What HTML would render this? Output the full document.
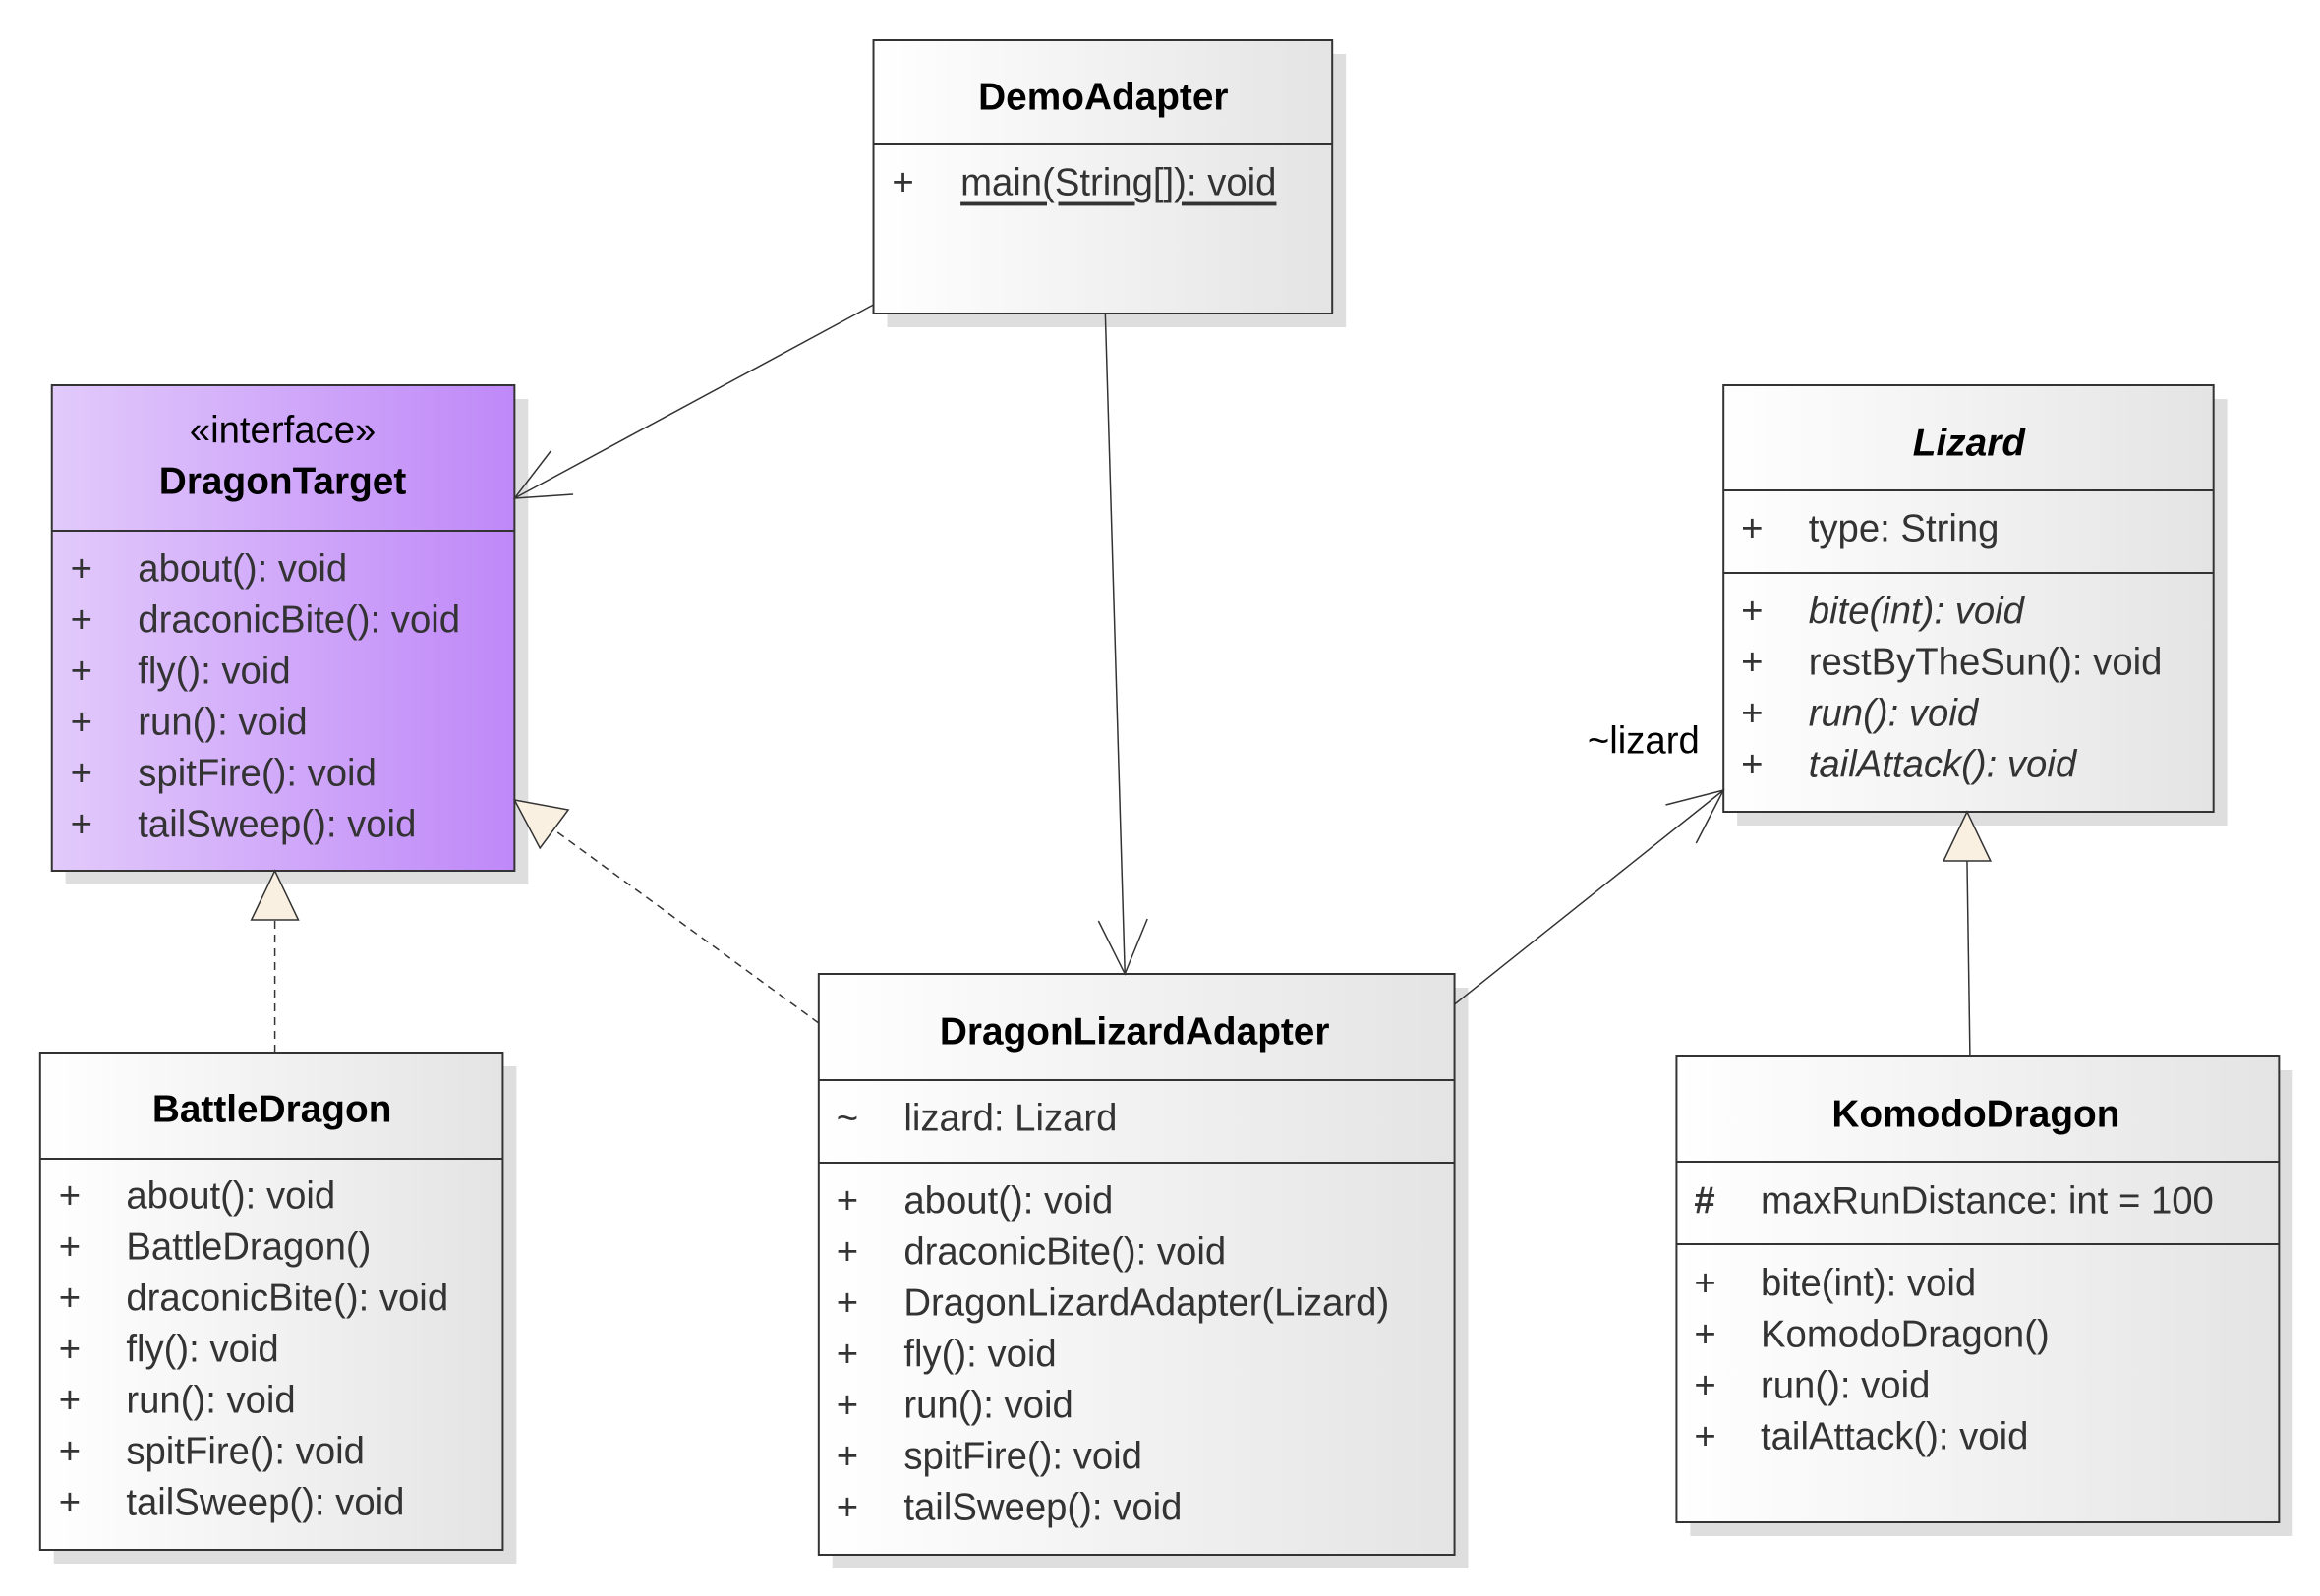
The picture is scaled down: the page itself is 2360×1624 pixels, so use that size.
<!DOCTYPE html>
<html><head><meta charset="utf-8"><style>
html,body{margin:0;padding:0;background:#fff;}
svg{display:block;}
text{font-family:"Liberation Sans",Arial,sans-serif;}
.r{font-size:38.5px;fill:#333;dominant-baseline:central;}
.t{font-size:39px;font-weight:bold;fill:#000;dominant-baseline:central;text-anchor:middle;}
.it{font-style:italic;}
</style></head><body>
<svg width="2360" height="1624" viewBox="0 0 2360 1624" xmlns="http://www.w3.org/2000/svg">
<defs>
<linearGradient id="g" x1="0" x2="1" y1="0" y2="0"><stop offset="0" stop-color="#ffffff"/><stop offset="1" stop-color="#e4e4e4"/></linearGradient>
<linearGradient id="p" x1="0" x2="1" y1="0" y2="0"><stop offset="0" stop-color="#e2cafb"/><stop offset="1" stop-color="#bf88f8"/></linearGradient>
</defs>
<g transform="scale(0.995,1)">
<!-- shadows -->
<g fill="#dedede">
<rect x="907" y="55" width="469" height="278"/>
<rect x="67" y="406" width="473" height="494"/>
<rect x="1776" y="406" width="501" height="434"/>
<rect x="55" y="1085" width="473" height="506"/>
<rect x="851" y="1005" width="650" height="591"/>
<rect x="1728" y="1089" width="616" height="474"/>
</g>
<!-- boxes -->
<g stroke="#333" stroke-width="2">
<rect x="893" y="41" width="469" height="278" fill="url(#g)"/>
<rect x="53" y="392" width="473" height="494" fill="url(#p)"/>
<rect x="1762" y="392" width="501" height="434" fill="url(#g)"/>
<rect x="41" y="1071" width="473" height="506" fill="url(#g)"/>
<rect x="837" y="991" width="650" height="591" fill="url(#g)"/>
<rect x="1714" y="1075" width="616" height="474" fill="url(#g)"/>
<line x1="893" y1="147" x2="1362" y2="147"/>
<line x1="53" y1="540" x2="526" y2="540"/>
<line x1="1762" y1="499" x2="2263" y2="499"/>
<line x1="1762" y1="583" x2="2263" y2="583"/>
<line x1="41" y1="1179" x2="514" y2="1179"/>
<line x1="837" y1="1099" x2="1487" y2="1099"/>
<line x1="837" y1="1183" x2="1487" y2="1183"/>
<line x1="1714" y1="1182" x2="2330" y2="1182"/>
<line x1="1714" y1="1266" x2="2330" y2="1266"/>
</g>
<!-- connectors -->
<g stroke="#333" stroke-width="1.5" fill="none">
<line x1="893" y1="310" x2="526" y2="507"/>
<polyline points="586,503 526,507 563,459"/>
<line x1="1130" y1="319" x2="1150" y2="991"/>
<polyline points="1173,935 1150,991 1123,937"/>
<line x1="1487" y1="1022" x2="1762" y2="804"/>
<polyline points="1734,858 1762,804 1703,819"/>
<line x1="837" y1="1041" x2="566" y2="844" stroke-dasharray="8,6"/>
<line x1="281" y1="1071" x2="281" y2="936" stroke-dasharray="8,6"/>
<line x1="2014" y1="1075" x2="2011" y2="876"/>
</g>
<g stroke="#333" stroke-width="1.5" fill="#faf0e1">
<polygon points="526,814 552,863 581,824"/>
<polygon points="281,886 257,936 305,936"/>
<polygon points="2011,826 1987,876 2035,876"/>
</g>
<!-- DemoAdapter -->
<text class="t" x="1128" y="99">DemoAdapter</text>
<text class="r" x="912" y="186">+</text>
<text class="r" x="982" y="186" text-decoration="underline">main(String[]): void</text>
<!-- DragonTarget -->
<text class="r" x="289" y="438" text-anchor="middle" style="fill:#000">«interface»</text>
<text class="t" x="289" y="490">DragonTarget</text>
<text class="r" x="72" y="579">+</text><text class="r" x="141" y="579">about(): void</text>
<text class="r" x="72" y="631">+</text><text class="r" x="141" y="631">draconicBite(): void</text>
<text class="r" x="72" y="683">+</text><text class="r" x="141" y="683">fly(): void</text>
<text class="r" x="72" y="735">+</text><text class="r" x="141" y="735">run(): void</text>
<text class="r" x="72" y="787">+</text><text class="r" x="141" y="787">spitFire(): void</text>
<text class="r" x="72" y="839">+</text><text class="r" x="141" y="839">tailSweep(): void</text>
<!-- Lizard -->
<text class="t it" x="2013" y="451">Lizard</text>
<text class="r" x="1780" y="538">+</text><text class="r" x="1849" y="538">type: String</text>
<text class="r" x="1780" y="622">+</text><text class="r it" x="1849" y="622">bite(int): void</text>
<text class="r" x="1780" y="674">+</text><text class="r" x="1849" y="674">restByTheSun(): void</text>
<text class="r" x="1780" y="726">+</text><text class="r it" x="1849" y="726">run(): void</text>
<text class="r" x="1780" y="778">+</text><text class="r it" x="1849" y="778">tailAttack(): void</text>
<text class="r" x="1623" y="754" style="fill:#000">~lizard</text>
<!-- BattleDragon -->
<text class="t" x="278" y="1129">BattleDragon</text>
<text class="r" x="60" y="1217">+</text><text class="r" x="129" y="1217">about(): void</text>
<text class="r" x="60" y="1269">+</text><text class="r" x="129" y="1269">BattleDragon()</text>
<text class="r" x="60" y="1321">+</text><text class="r" x="129" y="1321">draconicBite(): void</text>
<text class="r" x="60" y="1373">+</text><text class="r" x="129" y="1373">fly(): void</text>
<text class="r" x="60" y="1425">+</text><text class="r" x="129" y="1425">run(): void</text>
<text class="r" x="60" y="1477">+</text><text class="r" x="129" y="1477">spitFire(): void</text>
<text class="r" x="60" y="1529">+</text><text class="r" x="129" y="1529">tailSweep(): void</text>
<!-- DragonLizardAdapter -->
<text class="t" x="1160" y="1050">DragonLizardAdapter</text>
<text class="r" x="855" y="1138">~</text><text class="r" x="924" y="1138">lizard: Lizard</text>
<text class="r" x="855" y="1222">+</text><text class="r" x="924" y="1222">about(): void</text>
<text class="r" x="855" y="1274">+</text><text class="r" x="924" y="1274">draconicBite(): void</text>
<text class="r" x="855" y="1326">+</text><text class="r" x="924" y="1326">DragonLizardAdapter(Lizard)</text>
<text class="r" x="855" y="1378">+</text><text class="r" x="924" y="1378">fly(): void</text>
<text class="r" x="855" y="1430">+</text><text class="r" x="924" y="1430">run(): void</text>
<text class="r" x="855" y="1482">+</text><text class="r" x="924" y="1482">spitFire(): void</text>
<text class="r" x="855" y="1534">+</text><text class="r" x="924" y="1534">tailSweep(): void</text>
<!-- KomodoDragon -->
<text class="t" x="2020" y="1134">KomodoDragon</text>
<text class="r" x="1732" y="1222" style="font-weight:bold">#</text><text class="r" x="1800" y="1222">maxRunDistance: int = 100</text>
<text class="r" x="1732" y="1306">+</text><text class="r" x="1800" y="1306">bite(int): void</text>
<text class="r" x="1732" y="1358">+</text><text class="r" x="1800" y="1358">KomodoDragon()</text>
<text class="r" x="1732" y="1410">+</text><text class="r" x="1800" y="1410">run(): void</text>
<text class="r" x="1732" y="1462">+</text><text class="r" x="1800" y="1462">tailAttack(): void</text>
</g>
</svg>
</body></html>
